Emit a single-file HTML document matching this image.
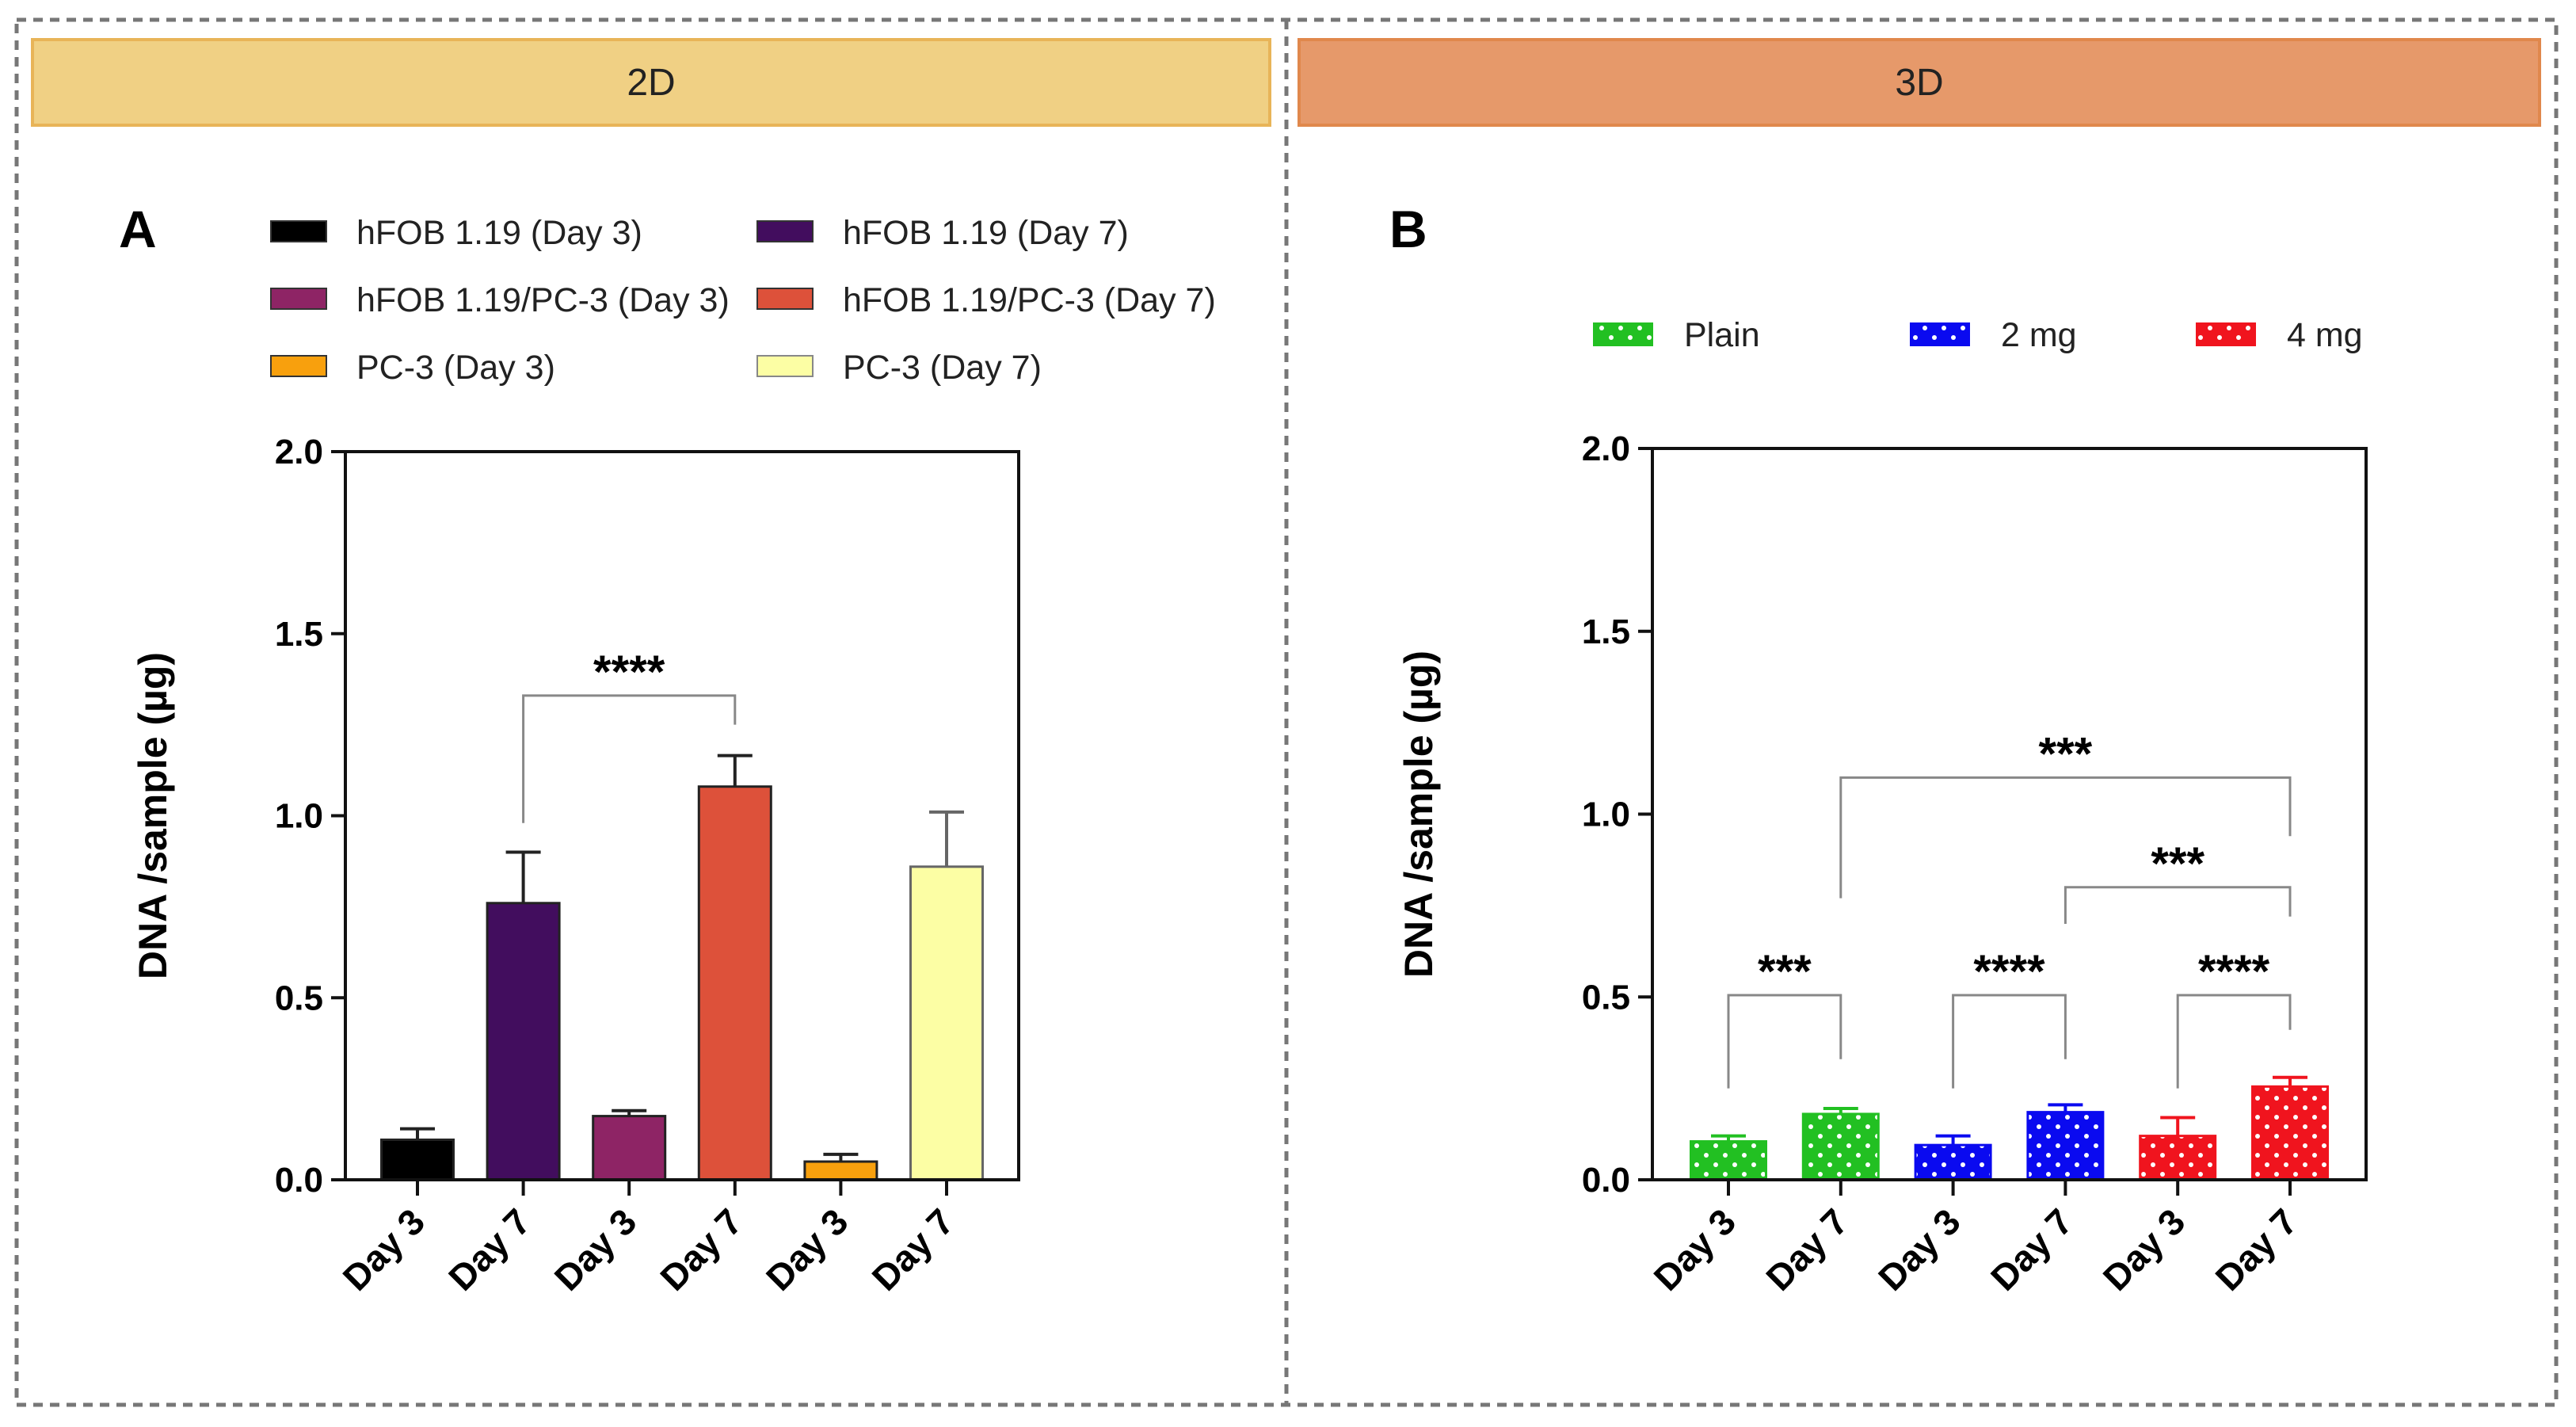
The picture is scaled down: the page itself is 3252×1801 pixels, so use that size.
<!DOCTYPE html>
<html><head><meta charset="utf-8"><style>
html,body{margin:0;padding:0;background:#fff;}
svg{display:block;font-family:"Liberation Sans",Arial,sans-serif;}
</style></head><body>
<svg id="fig" width="3252" height="1801" viewBox="0 0 3252 1801" xmlns="http://www.w3.org/2000/svg">
<defs>
<pattern id="dotG" width="24" height="24" patternUnits="userSpaceOnUse"><rect width="24" height="24" fill="#22C022"/><circle cx="6" cy="6" r="3" fill="#fff"/><circle cx="18" cy="18" r="3" fill="#fff"/></pattern>
<pattern id="dotB" width="24" height="24" patternUnits="userSpaceOnUse"><rect width="24" height="24" fill="#0A0AF0"/><circle cx="6" cy="6" r="3" fill="#fff"/><circle cx="18" cy="18" r="3" fill="#fff"/></pattern>
<pattern id="dotR" width="24" height="24" patternUnits="userSpaceOnUse"><rect width="24" height="24" fill="#F0141E"/><circle cx="6" cy="6" r="3" fill="#fff"/><circle cx="18" cy="18" r="3" fill="#fff"/></pattern>
</defs>
<rect x="21" y="25" width="3206" height="1748" fill="none" stroke="#777" stroke-width="5" stroke-dasharray="12,9"/>
<line x1="1624" y1="25" x2="1624" y2="1773" stroke="#777" stroke-width="5" stroke-dasharray="12,9"/>
<g><rect x="41" y="50" width="1562" height="108" fill="#F0D084" stroke="#E8B458" stroke-width="4"/><text x="822" y="120" font-size="48" text-anchor="middle" fill="#222">2D</text></g>
<g><rect x="1640" y="50" width="1566" height="108" fill="#E6996A" stroke="#E0884C" stroke-width="4"/><text x="2423" y="120" font-size="48" text-anchor="middle" fill="#222">3D</text></g>
<text x="150" y="312" font-size="66" font-weight="bold">A</text>
<text x="1754" y="312" font-size="66" font-weight="bold">B</text>
<g id="chartA"></g>
<g id="chartB"></g>
</svg>
<script>
const catsA = ["Day 3","Day 7","Day 3","Day 7","Day 3","Day 7"];
const valsA = [0.11, 0.76, 0.175, 1.08, 0.05, 0.86];
const errA = [0.03, 0.14, 0.015, 0.085, 0.02, 0.15];
const namesA = ["hFOB 1.19 (Day 3)","hFOB 1.19 (Day 7)","hFOB 1.19/PC-3 (Day 3)","hFOB 1.19/PC-3 (Day 7)","PC-3 (Day 3)","PC-3 (Day 7)"];
const colorsA = ["#000000","#420D5E","#8E2465","#DD513A","#F8A00D","#FCFEA4"];
const catsB = ["Day 3","Day 7","Day 3","Day 7","Day 3","Day 7"];
const valsB = [0.105, 0.18, 0.095, 0.185, 0.12, 0.255];
const errB = [0.015, 0.015, 0.025, 0.02, 0.05, 0.025];
const groupsB = ["Plain","2 mg","4 mg"];
const ticks = [0, 0.5, 1.0, 1.5, 2.0];
const tickLabels = ["0.0","0.5","1.0","1.5","2.0"];
// brackets: [from, to, topValue, leftLegValue, rightLegValue, label]
const sigA = [[1,3,1.33,0.98,1.25,"****"]];
const sigB = [[0,1,0.505,0.25,0.33,"***"],[2,3,0.505,0.25,0.33,"****"],[4,5,0.505,0.25,0.41,"****"],[3,5,0.80,0.70,0.72,"***"],[1,5,1.10,0.77,0.94,"***"]];

const NS="http://www.w3.org/2000/svg";
function mk(parent,tag,attrs,text){const e=document.createElementNS(NS,tag);for(const k in attrs)e.setAttribute(k,attrs[k]);if(text!==undefined)e.textContent=text;parent.appendChild(e);return e;}

function drawChart(g,cfg){
  const y=v=>cfg.y0-(v/2)*(cfg.y0-cfg.y2);
  const step=(cfg.right-cfg.left-2*cfg.pad)/(cfg.cats.length-1);
  const x=i=>cfg.left+cfg.pad+i*step;
  cfg.vals.forEach((v,i)=>{
    const b=mk(g,"rect",{x:x(i)-cfg.bw/2,y:y(v),width:cfg.bw,height:y(0)-y(v),fill:cfg.fill(i),stroke:cfg.stroke(i),"stroke-width":3});
    
    
    const et=y(v+cfg.err[i]);
    const e=mk(g,"path",{d:`M${x(i)},${y(v)}V${et}M${x(i)-22},${et}H${x(i)+22}`,stroke:cfg.stroke(i),"stroke-width":4,fill:"none"});
    
    
  });
  const ax=mk(g,"path",{d:`M${cfg.left},${cfg.y2}V${cfg.y0}H${cfg.right}V${cfg.y2}H${cfg.left}`,stroke:"#111","stroke-width":4,fill:"none"});
  
  
  ticks.forEach((t,i)=>{
    mk(g,"line",{x1:cfg.left-18,x2:cfg.left,y1:y(t),y2:y(t),stroke:"#111","stroke-width":4});
    const tl=mk(g,"text",{x:cfg.left-28,y:y(t)+15,"font-size":44,"font-weight":"bold","text-anchor":"end"},tickLabels[i]);
    
    
  });
  cfg.cats.forEach((c,i)=>{
    mk(g,"line",{x1:x(i),x2:x(i),y1:cfg.y0,y2:cfg.y0+20,stroke:"#111","stroke-width":4});
    const xl=mk(g,"text",{transform:`translate(${x(i)+12},${cfg.y0+56}) rotate(-45)`,"font-size":46,"font-weight":"bold","text-anchor":"end"},c);
    
    
  });
  const yt=mk(g,"text",{transform:`translate(${cfg.ytx},${(cfg.y0+cfg.y2)/2}) rotate(-90)`,"font-size":50,"font-weight":"bold","text-anchor":"middle"},"DNA /sample (\u00B5g)");
  
  
  cfg.sig.forEach(s=>{
    const [a,b,top,ll,rl,lab]=s;
    const p=mk(g,"path",{d:`M${x(a)},${y(ll)}V${y(top)}H${x(b)}V${y(rl)}`,stroke:"#888","stroke-width":3,fill:"none"});
    
    
    const st=mk(g,"text",{x:(x(a)+x(b))/2,y:y(top)-10,"font-size":58,"font-weight":"bold","text-anchor":"middle"},lab);
    
    
  });
}

const gA=document.getElementById("chartA");
drawChart(gA,{left:436,right:1286,y0:1489,y2:570,pad:91,bw:91,cats:catsA,vals:valsA,err:errA,
  fill:i=>colorsA[i],stroke:i=>i===5?"#666":"#222",sig:sigA,ytx:210});
namesA.forEach((n,i)=>{
  const col=i%2, row=Math.floor(i/2);
  const lx=col?956:342, ly=293+row*85;
  const lg=mk(gA,"g",{});
  
  
  mk(lg,"rect",{x:lx,y:ly-14,width:70,height:26,fill:colorsA[i],stroke:i===5?"#888":"#333","stroke-width":2});
  mk(lg,"text",{x:lx+108,y:ly+15,"font-size":43,fill:"#222"},n);
});

const gB=document.getElementById("chartB");
const patB=["url(#dotG)","url(#dotB)","url(#dotR)"], colB=["#22C022","#0A0AF0","#F0141E"];
drawChart(gB,{left:2086,right:2987,y0:1489,y2:566,pad:96,bw:95,cats:catsB,vals:valsB,err:errB,
  fill:i=>patB[Math.floor(i/2)],stroke:i=>colB[Math.floor(i/2)],sig:sigB,ytx:1808});
const lxB=[2012,2412,2773];
groupsB.forEach((n,i)=>{
  const lg=mk(gB,"g",{});
  
  
  mk(lg,"rect",{x:lxB[i],y:408,width:74,height:28,fill:patB[i],stroke:colB[i],"stroke-width":2});
  mk(lg,"text",{x:lxB[i]+114,y:437,"font-size":43,fill:"#222"},n);
});
</script>
</body></html>
